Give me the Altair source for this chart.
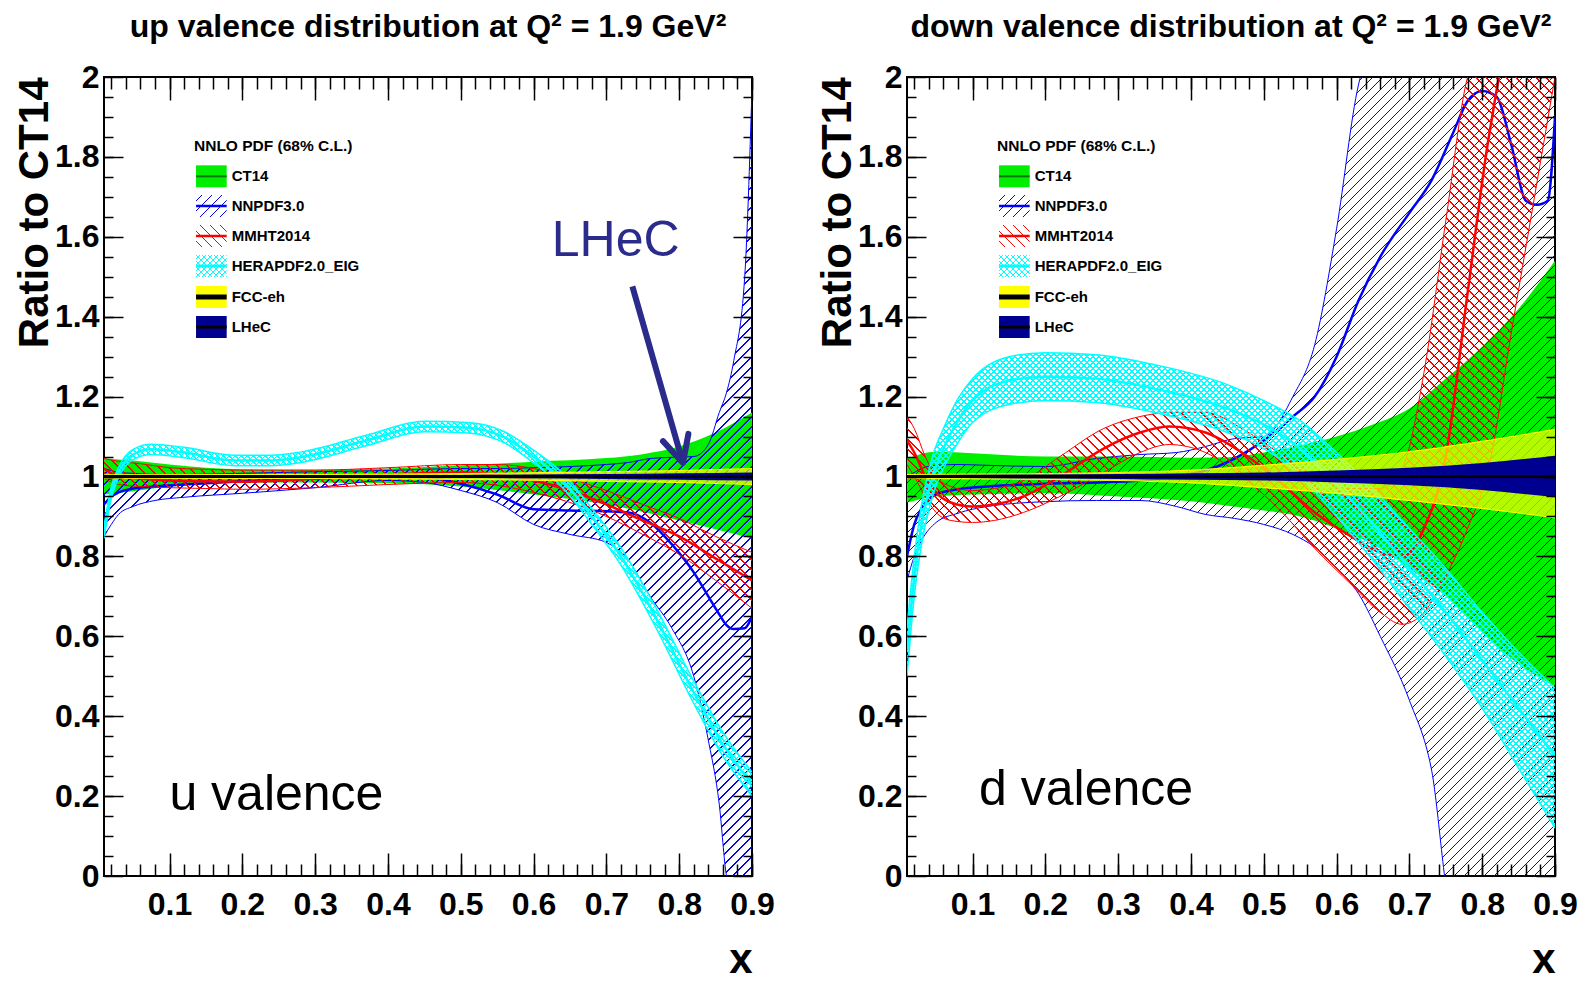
import math
import altair as alt
import pandas as pd

FONT = "Liberation Sans"
W, H = 648, 799
XDOM = [0.01, 0.9]
YDOM = [0.0, 2.0]
PXX = W / (XDOM[1] - XDOM[0])
PXY = H / (YDOM[1] - YDOM[0])

GREEN = "#00ee00"
DKGREEN = "#007700"
BLUE = "#0000ff"
RED = "#ff0000"
CYAN = "#00ffff"
YELLOW = "#ffff00"
NAVY = "#000090"
ANNOT = "#2b2b8c"

# ---------------- up valence (left panel) ----------------
u_ct_x = [0.01, 0.05, 0.1, 0.2, 0.3, 0.4, 0.5, 0.6, 0.7, 0.75, 0.8, 0.85, 0.9]
u_ct_hi = [1.045, 1.04, 1.03, 1.018, 1.017, 1.02, 1.028, 1.037, 1.046, 1.056, 1.075, 1.11, 1.16]
u_ct_lo = [0.955, 0.963, 0.975, 0.985, 0.985, 0.983, 0.975, 0.955, 0.93, 0.912, 0.89, 0.868, 0.845]

u_nn_x = [0.01, 0.02, 0.03, 0.05, 0.08, 0.12, 0.2, 0.3, 0.4, 0.45, 0.5, 0.55, 0.6, 0.65, 0.7,
          0.73, 0.76, 0.79, 0.82, 0.84, 0.855, 0.865, 0.875, 0.89, 0.9]
u_nn_c = [0.93, 0.95, 0.96, 0.97, 0.975, 0.98, 0.988, 0.995, 1.0, 0.998, 0.982, 0.955, 0.918, 0.915, 0.913,
          0.91, 0.885, 0.83, 0.76, 0.70, 0.655, 0.628, 0.618, 0.62, 0.65]
u_nn_lo = [0.85, 0.88, 0.905, 0.925, 0.94, 0.948, 0.958, 0.972, 0.99, 0.985, 0.965, 0.935, 0.88, 0.855, 0.835,
           0.79, 0.7, 0.62, 0.5, 0.34, 0.18, 0.0, -0.05, -0.05, -0.05]
u_nn_hi = [1.02, 1.015, 1.01, 1.008, 1.005, 1.005, 1.008, 1.012, 1.015, 1.018, 1.02, 1.02, 1.022, 1.025, 1.03,
           1.035, 1.045, 1.048, 1.05, 1.08, 1.16, 1.21, 1.29, 1.5, 1.97]

u_mm_x = [0.01, 0.03, 0.06, 0.1, 0.15, 0.2, 0.3, 0.4, 0.5, 0.55, 0.6, 0.65, 0.7, 0.75, 0.8, 0.85, 0.9]
u_mm_c = [1.02, 1.0, 0.995, 0.99, 0.988, 0.987, 0.995, 1.005, 1.01, 1.005, 0.99, 0.965, 0.93, 0.89, 0.85, 0.795, 0.74]
u_mm_hi = [1.045, 1.038, 1.032, 1.022, 1.018, 1.016, 1.016, 1.022, 1.03, 1.03, 1.02, 0.995, 0.965, 0.93, 0.895, 0.85, 0.81]
u_mm_lo = [0.995, 0.98, 0.975, 0.972, 0.97, 0.968, 0.972, 0.98, 0.985, 0.978, 0.96, 0.935, 0.9, 0.855, 0.805, 0.74, 0.67]

u_he_x = [0.01, 0.02, 0.03, 0.05, 0.075, 0.12, 0.19, 0.24, 0.28, 0.37, 0.45, 0.51, 0.56, 0.6, 0.64,
          0.68, 0.72, 0.77, 0.82, 0.86, 0.9]
u_he_c = [0.86, 0.96, 1.01, 1.055, 1.068, 1.06, 1.04, 1.04, 1.048, 1.09, 1.125, 1.122, 1.098, 1.05, 0.99,
          0.9, 0.8, 0.64, 0.46, 0.33, 0.23]
u_he_hi = [0.875, 0.975, 1.023, 1.068, 1.081, 1.073, 1.053, 1.053, 1.061, 1.103, 1.138, 1.135, 1.112, 1.066, 1.008,
           0.92, 0.822, 0.665, 0.488, 0.36, 0.26]
u_he_lo = [0.845, 0.945, 0.997, 1.042, 1.055, 1.047, 1.027, 1.027, 1.035, 1.077, 1.112, 1.109, 1.084, 1.034, 0.972,
           0.88, 0.778, 0.615, 0.432, 0.3, 0.2]

u_fcc_x = [0.01, 0.3, 0.5, 0.7, 0.8, 0.9]
u_fcc_hi = [1.004, 1.005, 1.007, 1.012, 1.015, 1.02]
u_fcc_lo = [0.996, 0.995, 0.993, 0.988, 0.985, 0.98]
u_lhec_hi = [1.003, 1.003, 1.004, 1.006, 1.008, 1.01]
u_lhec_lo = [0.997, 0.997, 0.996, 0.994, 0.992, 0.99]

# ---------------- down valence (right panel) ----------------
d_ct_x = [0.01, 0.05, 0.1, 0.2, 0.3, 0.4, 0.45, 0.5, 0.55, 0.6, 0.65, 0.7, 0.75, 0.8, 0.85, 0.9]
d_ct_hi = [1.045, 1.062, 1.058, 1.05, 1.05, 1.047, 1.048, 1.06, 1.078, 1.1, 1.13, 1.17, 1.245, 1.325, 1.42, 1.54]
d_ct_lo = [0.935, 0.95, 0.955, 0.958, 0.95, 0.938, 0.927, 0.915, 0.9, 0.87, 0.83, 0.77, 0.7, 0.61, 0.53, 0.475]

d_nn_x = [0.01, 0.02, 0.03, 0.05, 0.08, 0.12, 0.2, 0.27, 0.33, 0.38, 0.42, 0.46, 0.5, 0.54, 0.57,
          0.6, 0.63, 0.66, 0.7, 0.73, 0.76, 0.78, 0.8, 0.82, 0.84, 0.86, 0.875, 0.89, 0.9]
d_nn_c = [0.8, 0.88, 0.92, 0.955, 0.968, 0.975, 0.982, 0.985, 0.99, 1.0, 1.015, 1.045, 1.09, 1.15, 1.2,
          1.3, 1.44, 1.55, 1.66, 1.74, 1.86, 1.94, 1.965, 1.95, 1.83, 1.69, 1.68, 1.69, 1.9]
d_nn_lo = [0.74, 0.8, 0.84, 0.885, 0.908, 0.925, 0.937, 0.94, 0.94, 0.925, 0.905, 0.895, 0.88, 0.855, 0.823,
           0.77, 0.707, 0.6, 0.44, 0.27, -0.1, -0.1, -0.1, -0.1, -0.1, -0.1, -0.1, -0.1, -0.1]
d_nn_hi = [1.0, 1.01, 1.02, 1.028, 1.03, 1.028, 1.025, 1.045, 1.055, 1.06, 1.075, 1.095, 1.1, 1.2, 1.33,
           1.62, 1.98, 2.1, 2.1, 2.1, 2.1, 2.1, 2.1, 2.1, 2.1, 2.1, 2.1, 2.1, 2.1]

d_mm_x = [0.01, 0.02, 0.035, 0.05, 0.07, 0.1, 0.13, 0.17, 0.22, 0.28, 0.33, 0.37, 0.42, 0.47, 0.52,
          0.57, 0.62, 0.66, 0.69, 0.72, 0.75, 0.78, 0.81, 0.84, 0.87, 0.9]
d_mm_c = [1.09, 1.06, 1.0, 0.96, 0.935, 0.925, 0.93, 0.95, 1.0, 1.07, 1.11, 1.125, 1.11, 1.06, 0.99,
          0.91, 0.85, 0.81, 0.8, 0.87, 1.05, 1.46, 1.86, 2.1, 2.1, 2.1]
d_mm_hi = [1.15, 1.12, 1.05, 1.0, 0.975, 0.965, 0.97, 0.99, 1.05, 1.12, 1.15, 1.16, 1.16, 1.12, 1.06,
           1.0, 0.97, 0.97, 1.02, 1.26, 1.64, 2.0, 2.1, 2.1, 2.1, 2.1]
d_mm_lo = [1.03, 1.0, 0.95, 0.91, 0.89, 0.885, 0.89, 0.91, 0.95, 1.01, 1.06, 1.08, 1.06, 1.0, 0.92,
           0.82, 0.73, 0.66, 0.63, 0.66, 0.75, 0.87, 1.03, 1.36, 1.68, 2.0]

d_he_x = [0.01, 0.02, 0.03, 0.045, 0.06, 0.08, 0.1, 0.15, 0.2, 0.27, 0.35, 0.45, 0.5, 0.55, 0.6,
          0.65, 0.7, 0.75, 0.8, 0.85, 0.9]
d_he_c = [0.56, 0.75, 0.88, 1.0, 1.07, 1.14, 1.19, 1.24, 1.25, 1.245, 1.22, 1.17, 1.13, 1.07, 0.98,
          0.88, 0.77, 0.66, 0.54, 0.42, 0.3]
d_he_hi = [0.62, 0.8, 0.93, 1.05, 1.12, 1.195, 1.245, 1.3, 1.31, 1.305, 1.28, 1.23, 1.19, 1.14, 1.06,
           0.97, 0.87, 0.77, 0.66, 0.56, 0.47]
d_he_lo = [0.5, 0.7, 0.83, 0.95, 1.02, 1.085, 1.135, 1.18, 1.19, 1.185, 1.16, 1.11, 1.07, 1.0, 0.9,
           0.79, 0.67, 0.55, 0.42, 0.27, 0.12]

d_fcc_x = [0.01, 0.2, 0.3, 0.4, 0.5, 0.6, 0.7, 0.8, 0.9]
d_fcc_hi = [1.005, 1.007, 1.01, 1.016, 1.028, 1.043, 1.062, 1.088, 1.118]
d_fcc_lo = [0.995, 0.993, 0.99, 0.984, 0.972, 0.958, 0.94, 0.92, 0.897]
d_lhec_hi = [1.004, 1.005, 1.006, 1.008, 1.01, 1.015, 1.022, 1.034, 1.052]
d_lhec_lo = [0.996, 0.995, 0.994, 0.992, 0.99, 0.985, 0.978, 0.966, 0.948]

# ratio of CT14 to itself
ref_x = [0.01, 0.9]
ref_v = [1.0, 1.0]

# legend / annotations
legend_names = ["CT14", "NNPDF3.0", "MMHT2014", "HERAPDF2.0_EIG", "FCC-eh", "LHeC"]
legend_header = "NNLO PDF (68% C.L.)"
titles = ["up valence distribution at Q\u00b2 = 1.9 GeV\u00b2",
          "down valence distribution at Q\u00b2 = 1.9 GeV\u00b2"]
panel_labels = ["u valence", "d valence"]

LEG_X0, LEG_X1, LEG_TX = 0.1364, 0.1785, 0.1854
LEG_HX, LEG_HY = 0.1336, 1.8155
LEG_ROWS = [1.7514, 1.6771, 1.6020, 1.5269, 1.4493, 1.3742]
LEG_DH = 0.0275


def X(field, axis=None):
    return alt.X(f"{field}:Q", scale=alt.Scale(domain=XDOM, nice=False, zero=False), axis=axis)


def Y(field, axis=None):
    return alt.Y(f"{field}:Q", scale=alt.Scale(domain=YDOM, nice=False, zero=False), axis=axis)


def hatch(color, wpx, hpx, period, direction, lw=1.0):
    L = wpx + hpx
    clear = "rgba(255,255,255,0)"
    stops = []
    pos = period * 0.5
    d = lw * math.sqrt(2)
    while pos + d < L:
        a = round(pos / L, 6)
        b = round((pos + d) / L, 6)
        stops += [alt.GradientStop(color=clear, offset=a), alt.GradientStop(color=color, offset=a),
                  alt.GradientStop(color=color, offset=b), alt.GradientStop(color=clear, offset=b)]
        pos += period
    s = wpx * (wpx + hpx) / (wpx ** 2 + hpx ** 2)
    if direction == "/":
        x1, y1, x2, y2 = 0, 0, s, s * hpx / wpx
    else:
        x1, y1, x2, y2 = 0, 1, s, 1 - s * hpx / wpx
    return alt.LinearGradient(gradient="linear", stops=stops, x1=x1, y1=y1, x2=x2, y2=y2)


def band(xs, lo, hi, fill, opacity=1.0):
    df = pd.DataFrame({"x": xs, "lo": lo, "hi": hi})
    return alt.Chart(df).mark_area(fill=fill, fillOpacity=opacity, interpolate="monotone", clip=True).encode(
        x=X("x"), y=Y("lo"), y2=alt.Y2("hi"))


def hatch_band(xs, lo, hi, color, period, dirs):
    wpx = (max(xs) - min(xs)) * PXX
    hpx = (max(hi) - min(lo)) * PXY
    return [band(xs, lo, hi, hatch(color, wpx, hpx, period, d)) for d in dirs]


def lines(xs, series, color):
    rows = []
    for kind, arr, w in series:
        for xv, yv in zip(xs, arr):
            rows.append({"x": xv, "v": yv, "k": kind, "w": w})
    return alt.Chart(pd.DataFrame(rows)).mark_line(color=color, interpolate="monotone", clip=True).encode(
        x=X("x"), y=Y("v"), detail="k:N", strokeWidth=alt.StrokeWidth("w:Q", scale=None))


def axis_common(**kw):
    base = dict(domain=False, grid=False, tickColor="black", tickWidth=1.5, zindex=1)
    base.update(kw)
    return alt.Axis(**base)


X_MAJ = [0.1, 0.2, 0.3, 0.4, 0.5, 0.6, 0.7, 0.8, 0.9]
X_MIN = [round(0.02 * i, 2) for i in range(1, 46)]
Y_MAJ = [0.0, 0.2, 0.4, 0.6, 0.8, 1.0, 1.2, 1.4, 1.6, 1.8, 2.0]
Y_MIN = [round(0.05 * i, 2) for i in range(1, 40)]


def axis_layers():
    carrier = pd.DataFrame({"x": [0.5], "v": [1.0]})
    bx_maj = axis_common(orient="bottom", values=X_MAJ, tickSize=23, offset=-23, format="~g",
                         labelFont=FONT, labelFontSize=32, labelFontWeight="bold", labelColor="black",
                         labelPadding=13, labelFlush=False, labelOverlap=False,
                         title="x", titleFont=FONT, titleFontSize=42, titleFontWeight="bold",
                         titleColor="black", titleX=W, titleY=119, titleAlign="right",
                         titleBaseline="alphabetic")
    ly_maj = axis_common(orient="left", values=Y_MAJ, tickSize=19, offset=-19, format="~g",
                         labelFont=FONT, labelFontSize=32, labelFontWeight="bold", labelColor="black",
                         labelPadding=5, labelOverlap=False,
                         title="Ratio to CT14", titleFont=FONT, titleFontSize=42, titleFontWeight="bold",
                         titleColor="black", titleAngle=270, titleAlign="right", titleBaseline="alphabetic",
                         titleX=-75.5, titleY=0)
    bx_min = axis_common(orient="bottom", values=X_MIN, tickSize=12, offset=-12, labels=False, title=None)
    ly_min = axis_common(orient="left", values=Y_MIN, tickSize=9, offset=-9, labels=False, title=None)
    tx_maj = axis_common(orient="top", values=X_MAJ, tickSize=23, offset=-23, labels=False, title=None)
    ry_maj = axis_common(orient="right", values=Y_MAJ, tickSize=19, offset=-19, labels=False, title=None)
    tx_min = axis_common(orient="top", values=X_MIN, tickSize=12, offset=-12, labels=False, title=None)
    ry_min = axis_common(orient="right", values=Y_MIN, tickSize=9, offset=-9, labels=False, title=None)
    out = []
    for ax, ay in ((bx_maj, ly_maj), (bx_min, ly_min), (tx_maj, ry_maj), (tx_min, ry_min)):
        out.append(alt.Chart(carrier).mark_point(opacity=0).encode(x=X("x", ax), y=Y("v", ay)))
    return out


def legend_layers():
    out = []
    sw_w = (LEG_X1 - LEG_X0) * PXX
    sw_h = 2 * LEG_DH * PXY
    fills = [
        [GREEN],
        [hatch(BLUE, sw_w, sw_h, 10, "/")],
        [hatch(RED, sw_w, sw_h, 10, "\\")],
        [hatch(CYAN, sw_w, sw_h, 6, "/"), hatch(CYAN, sw_w, sw_h, 6, "\\")],
        [YELLOW],
        [NAVY],
    ]
    for yc, fl in zip(LEG_ROWS, fills):
        df = pd.DataFrame({"x0": [LEG_X0], "x1": [LEG_X1], "y0": [yc - LEG_DH], "y1": [yc + LEG_DH]})
        for f in fl:
            out.append(alt.Chart(df).mark_rect(fill=f).encode(x=X("x0"), x2=alt.X2("x1"),
                                                              y=Y("y0"), y2=alt.Y2("y1")))
    line_df = pd.DataFrame({"x0": [LEG_X0] * 6, "x1": [LEG_X1] * 6, "yc": LEG_ROWS,
                            "c": [DKGREEN, BLUE, RED, CYAN, "black", "black"],
                            "w": [2, 2.5, 2.5, 3, 5, 3]})
    out.append(alt.Chart(line_df).mark_rule().encode(
        x=X("x0"), x2=alt.X2("x1"), y=Y("yc"),
        color=alt.Color("c:N", scale=None), strokeWidth=alt.StrokeWidth("w:Q", scale=None)))
    txt_df = pd.DataFrame({"x": [LEG_TX] * 6, "yc": LEG_ROWS, "t": legend_names})
    out.append(alt.Chart(txt_df).mark_text(align="left", baseline="middle", font=FONT, fontSize=15,
                                           fontWeight="bold", color="black").encode(
        x=X("x"), y=Y("yc"), text="t:N"))
    hdr = pd.DataFrame({"x": [LEG_HX], "yc": [LEG_HY], "t": [legend_header]})
    out.append(alt.Chart(hdr).mark_text(align="left", baseline="alphabetic", font=FONT, fontSize=15.5,
                                        fontWeight="bold", color="black").encode(
        x=X("x"), y=Y("yc"), text="t:N"))
    return out


def panel(d, title, label, label_pos, annotate):
    layers = []
    layers.append(band(d["ct_x"], d["ct_lo"], d["ct_hi"], GREEN))
    layers += hatch_band(d["nn_x"], d["nn_lo"], d["nn_hi"], BLUE, 10, ["/"])
    layers.append(lines(d["nn_x"], [("lo", d["nn_lo"], 1.0), ("hi", d["nn_hi"], 1.0), ("c", d["nn_c"], 2.5)], BLUE))
    layers += hatch_band(d["mm_x"], d["mm_lo"], d["mm_hi"], RED, 10, ["\\"])
    layers.append(lines(d["mm_x"], [("lo", d["mm_lo"], 1.0), ("hi", d["mm_hi"], 1.0), ("c", d["mm_c"], 2.5)], RED))
    layers += hatch_band(d["he_x"], d["he_lo"], d["he_hi"], CYAN, 6, ["/", "\\"])
    layers.append(lines(d["he_x"], [("lo", d["he_lo"], 1.5), ("hi", d["he_hi"], 1.5), ("c", d["he_c"], 2.5)], CYAN))
    layers.append(band(d["fcc_x"], d["fcc_lo"], d["fcc_hi"], YELLOW, 0.7))
    layers.append(lines(d["fcc_x"], [("lo", d["fcc_lo"], 1.2), ("hi", d["fcc_hi"], 1.2)], YELLOW))
    layers.append(band(d["fcc_x"], d["lhec_lo"], d["lhec_hi"], NAVY))
    ref = pd.DataFrame({"x": ref_x, "v": ref_v})
    layers.append(alt.Chart(ref).mark_line(color="black", strokeWidth=3, clip=True).encode(x=X("x"), y=Y("v")))
    layers += legend_layers()
    lab = pd.DataFrame({"x": [label_pos[0]], "v": [label_pos[1]], "t": [label]})
    layers.append(alt.Chart(lab).mark_text(align="left", baseline="alphabetic", font=FONT, fontSize=50,
                                           color="black").encode(x=X("x"), y=Y("v"), text="t:N"))
    if annotate:
        ann = pd.DataFrame({"x": [0.625], "v": [1.551], "t": ["LHeC"]})
        layers.append(alt.Chart(ann).mark_text(align="left", baseline="alphabetic", font=FONT, fontSize=50,
                                               color=ANNOT).encode(x=X("x"), y=Y("v"), text="t:N"))
        arr = pd.DataFrame({"x": [0.7357], "x2": [0.8045], "v": [1.476], "v2": [1.038]})
        layers.append(alt.Chart(arr).mark_rule(color=ANNOT, strokeWidth=6).encode(
            x=X("x"), x2=alt.X2("x2"), y=Y("v"), y2=alt.Y2("v2")))
        tip = pd.DataFrame({"x": [0.8052], "v": [1.034]})
        layers.append(alt.Chart(tip).mark_point(shape="M-0.5,-1L0,0L0.5,-1", filled=False, size=2800,
                                                strokeWidth=6, angle=344, color=ANNOT, opacity=1,
                                                strokeJoin="round", strokeCap="round").encode(
            x=X("x"), y=Y("v")))
    layers += axis_layers()
    return alt.layer(*layers).properties(
        width=W, height=H,
        title=alt.TitleParams(text=title, font=FONT, fontSize=32, fontWeight="bold", color="black",
                              anchor="middle", frame="group", baseline="alphabetic", offset=-8)
    ).resolve_axis(x="independent", y="independent")


up = dict(ct_x=u_ct_x, ct_lo=u_ct_lo, ct_hi=u_ct_hi,
          nn_x=u_nn_x, nn_lo=u_nn_lo, nn_hi=u_nn_hi, nn_c=u_nn_c,
          mm_x=u_mm_x, mm_lo=u_mm_lo, mm_hi=u_mm_hi, mm_c=u_mm_c,
          he_x=u_he_x, he_lo=u_he_lo, he_hi=u_he_hi, he_c=u_he_c,
          fcc_x=u_fcc_x, fcc_lo=u_fcc_lo, fcc_hi=u_fcc_hi, lhec_lo=u_lhec_lo, lhec_hi=u_lhec_hi)
down = dict(ct_x=d_ct_x, ct_lo=d_ct_lo, ct_hi=d_ct_hi,
            nn_x=d_nn_x, nn_lo=d_nn_lo, nn_hi=d_nn_hi, nn_c=d_nn_c,
            mm_x=d_mm_x, mm_lo=d_mm_lo, mm_hi=d_mm_hi, mm_c=d_mm_c,
            he_x=d_he_x, he_lo=d_he_lo, he_hi=d_he_hi, he_c=d_he_c,
            fcc_x=d_fcc_x, fcc_lo=d_fcc_lo, fcc_hi=d_fcc_hi, lhec_lo=d_lhec_lo, lhec_hi=d_lhec_hi)

left = panel(up, titles[0], panel_labels[0], (0.0998, 0.165), True)
right = panel(down, titles[1], panel_labels[1], (0.109, 0.178), False)

chart = alt.hconcat(left, right, spacing=155, bounds="flush").properties(
    padding={"left": 12, "top": 10, "right": 0, "bottom": 0}
).configure_view(stroke="black", strokeWidth=2)

chart.save("out.html", embed_options={"renderer": "svg", "actions": False})
